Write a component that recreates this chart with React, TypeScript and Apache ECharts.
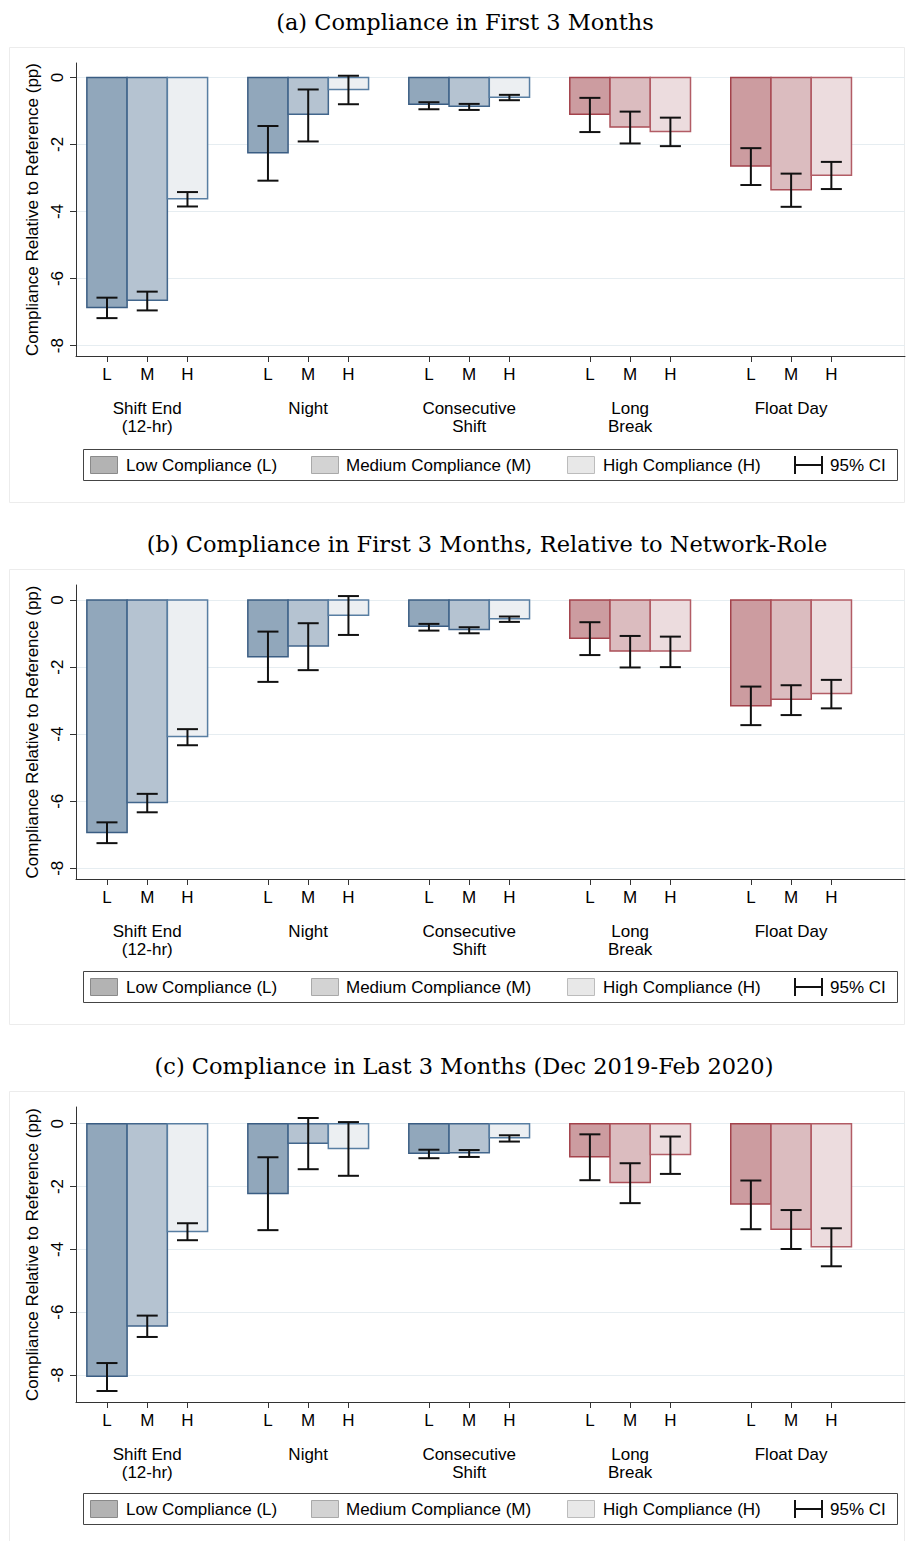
import React, { useEffect, useRef } from 'react';
import * as echarts from 'echarts';

// ---------- data ----------
const groupNames = ['Shift End\n(12-hr)', 'Night', 'Consecutive\nShift', 'Long\nBreak', 'Float Day'];
const levelNames = ['L', 'M', 'H'];
const legendNames = ['Low Compliance (L)', 'Medium Compliance (M)', 'High Compliance (H)', '95% CI'];
const yTickValues = [0, -2, -4, -6, -8];
const panelTitles = [
  '(a) Compliance in First 3 Months',
  '(b) Compliance in First 3 Months, Relative to Network-Role',
  '(c) Compliance in Last 3 Months (Dec 2019-Feb 2020)',
];
const yAxisName = 'Compliance Relative to Reference (pp)';

// order: group-major, L M H within each group
// Panel (a)
const estA = [-6.86, -6.65, -3.62, -2.25, -1.10, -0.36, -0.80, -0.86, -0.59, -1.10, -1.48, -1.61, -2.64, -3.35, -2.92];
const ciHiA = [-6.57, -6.39, -3.42, -1.45, -0.36, 0.05, -0.74, -0.79, -0.52, -0.61, -1.02, -1.20, -2.11, -2.87, -2.52];
const ciLoA = [-7.18, -6.95, -3.85, -3.08, -1.91, -0.80, -0.95, -0.97, -0.68, -1.63, -1.97, -2.05, -3.21, -3.86, -3.33];
// Panel (b)
const estB = [-6.93, -6.04, -4.07, -1.69, -1.37, -0.45, -0.78, -0.88, -0.56, -1.14, -1.52, -1.52, -3.15, -2.96, -2.79];
const ciHiB = [-6.63, -5.78, -3.85, -0.94, -0.69, 0.12, -0.71, -0.81, -0.49, -0.66, -1.07, -1.09, -2.58, -2.54, -2.38];
const ciLoB = [-7.25, -6.33, -4.33, -2.44, -2.09, -1.04, -0.91, -0.99, -0.65, -1.64, -2.01, -2.00, -3.73, -3.43, -3.23];
// Panel (c)
const estC = [-8.04, -6.44, -3.43, -2.22, -0.62, -0.79, -0.94, -0.93, -0.45, -1.05, -1.87, -0.98, -2.56, -3.36, -3.92];
const ciHiC = [-7.62, -6.11, -3.17, -1.07, 0.18, 0.05, -0.83, -0.84, -0.37, -0.34, -1.26, -0.41, -1.81, -2.75, -3.33];
const ciLoC = [-8.51, -6.79, -3.71, -3.39, -1.45, -1.66, -1.10, -1.06, -0.57, -1.80, -2.53, -1.60, -3.36, -3.99, -4.54];

const panels = [
  { est: estA, hi: ciHiA, lo: ciLoA },
  { est: estB, hi: ciHiB, lo: ciLoB },
  { est: estC, hi: ciHiC, lo: ciLoC },
];

// ---------- styling / layout ----------
const yExtents = [[-8.31, 0.43], [-8.32, 0.45], [-8.86, 0.53]];
const gridTops = [63, 585, 1107];
const gridHeights = [293, 294, 295];
const panelOffsets = [0, 522, 1044];
const titleCenters = [465, 487, 464];
const xMin = -0.77;
const xMax = 19.83;

const blueFill = ['#91a7bb', '#b5c3d1', '#eceff2'];
const blueStroke = ['#3a5d83', '#42668c', '#587ea2'];
const redFill = ['#cc9ca0', '#dbbcbf', '#ecdcde'];
const redStroke = ['#a3424b', '#aa4e57', '#b25c65'];
const legendFill = ['#b3b3b3', '#d3d3d3', '#e8e8e8'];
const legendStroke = ['#8a8a8a', '#a9a9a9', '#bcbcbc'];

const SANS = 'Liberation Sans, Arial, Helvetica, sans-serif';
const SERIF = 'DejaVu Serif, Liberation Serif, serif';

const slotOf = (i: number) => Math.floor(i / 3) * 4 + (i % 3);
const tickSlots = Array.from({ length: 15 }, (_, i) => slotOf(i));
const groupSlots = [1, 5, 9, 13, 17];

function buildOption() {
  const grid: any[] = [];
  const xAxis: any[] = [];
  const yAxis: any[] = [];
  const series: any[] = [];
  const graphic: any[] = [];

  panels.forEach((p, pi) => {
    grid.push({ left: 76, top: gridTops[pi], width: 829, height: gridHeights[pi], containLabel: false });
    xAxis.push({
      type: 'value', gridIndex: pi, min: xMin, max: xMax, position: 'bottom',
      axisLine: { show: true, onZero: false, lineStyle: { color: '#333', width: 1 } },
      axisTick: { show: true, customValues: tickSlots, length: 6, lineStyle: { color: '#333' } },
      axisLabel: {
        customValues: tickSlots, margin: 10, fontSize: 17, color: '#000', fontFamily: SANS,
        formatter: (v: number) => levelNames[Math.round(v) % 4] || '',
      },
      splitLine: { show: false },
    });
    xAxis.push({
      type: 'value', gridIndex: pi, min: xMin, max: xMax, position: 'bottom',
      axisLine: { show: false, onZero: false },
      axisTick: { show: false },
      axisLabel: {
        customValues: groupSlots, margin: 43, fontSize: 17, lineHeight: 18, color: '#000', fontFamily: SANS,
        formatter: (v: number) => groupNames[Math.round((v - 1) / 4)] || '',
      },
      splitLine: { show: false },
    });
    yAxis.push({
      type: 'value', gridIndex: pi, min: yExtents[pi][0], max: yExtents[pi][1],
      name: yAxisName, nameLocation: 'middle', nameGap: 31,
      nameTextStyle: { fontSize: 17, color: '#000', fontFamily: SANS },
      axisLine: { show: true, onZero: false, lineStyle: { color: '#333', width: 1 } },
      axisTick: { show: true, customValues: yTickValues, length: 6, lineStyle: { color: '#333' } },
      axisLabel: { customValues: yTickValues, rotate: 90, margin: 10, fontSize: 17, color: '#000', fontFamily: SANS },
      splitLine: { show: true, lineStyle: { color: '#e6edf1', width: 1 } },
    });

    const data = p.est.map((v, i) => [slotOf(i), v, Math.floor(i / 3), i % 3, p.lo[i], p.hi[i]]);
    series.push({
      type: 'custom', xAxisIndex: pi * 2, yAxisIndex: pi, z: 2,
      encode: { x: 0, y: 1 },
      data,
      renderItem: (_params: any, api: any) => {
        const s = api.value(0);
        const v = api.value(1);
        const g = api.value(2);
        const l = api.value(3);
        const a = api.coord([s - 0.5, 0]);
        const b = api.coord([s + 0.5, v]);
        const red = g >= 3;
        return {
          type: 'rect',
          shape: { x: a[0], y: Math.min(a[1], b[1]), width: b[0] - a[0], height: Math.abs(b[1] - a[1]) },
          style: { fill: red ? redFill[l] : blueFill[l], stroke: red ? redStroke[l] : blueStroke[l], lineWidth: 1.5 },
        };
      },
    });
    series.push({
      type: 'custom', xAxisIndex: pi * 2, yAxisIndex: pi, z: 3,
      encode: { x: 0, y: 1 },
      data,
      renderItem: (_params: any, api: any) => {
        const s = api.value(0);
        const lo = api.value(4);
        const hi = api.value(5);
        const x = api.coord([s, 0])[0];
        const yh = api.coord([s, hi])[1];
        const yl = api.coord([s, lo])[1];
        const st = { stroke: '#111', lineWidth: 2 };
        const hw = 10.5;
        return {
          type: 'group',
          children: [
            { type: 'line', shape: { x1: x, y1: yh, x2: x, y2: yl }, style: st },
            { type: 'line', shape: { x1: x - hw, y1: yh, x2: x + hw, y2: yh }, style: st },
            { type: 'line', shape: { x1: x - hw, y1: yl, x2: x + hw, y2: yl }, style: st },
          ],
        };
      },
    });

    const dy = panelOffsets[pi];
    // panel frame
    graphic.push({
      type: 'rect', z: -10, silent: true,
      shape: { x: 9.5, y: 47.5 + dy, width: 895, height: 455 },
      style: { fill: 'none', stroke: '#ececec', lineWidth: 1 },
    });
    // title
    graphic.push({
      type: 'text', x: titleCenters[pi], y: 22 + dy,
      style: { text: panelTitles[pi], align: 'center', verticalAlign: 'middle', fontSize: 22.5, fontFamily: SERIF, fill: '#000' },
    });
    // legend box
    graphic.push({
      type: 'rect',
      shape: { x: 83.5, y: 449.5 + dy, width: 814, height: 31 },
      style: { fill: '#fff', stroke: '#444', lineWidth: 1 },
    });
    const swX = [90.5, 311.5, 567.5];
    const txX = [126, 346, 603, 830];
    swX.forEach((sx, k) => {
      graphic.push({
        type: 'rect',
        shape: { x: sx, y: 456.5 + dy, width: 27, height: 17 },
        style: { fill: legendFill[k], stroke: legendStroke[k], lineWidth: 1 },
      });
    });
    legendNames.forEach((t, k) => {
      graphic.push({
        type: 'text', x: txX[k], y: 465 + dy,
        style: { text: t, align: 'left', verticalAlign: 'middle', fontSize: 17, fontFamily: SANS, fill: '#000' },
      });
    });
    const ciStyle = { stroke: '#111', lineWidth: 2 };
    graphic.push({ type: 'line', shape: { x1: 795, y1: 456 + dy, x2: 795, y2: 474 + dy }, style: ciStyle });
    graphic.push({ type: 'line', shape: { x1: 822, y1: 456 + dy, x2: 822, y2: 474 + dy }, style: ciStyle });
    graphic.push({ type: 'line', shape: { x1: 795, y1: 465 + dy, x2: 822, y2: 465 + dy }, style: ciStyle });
  });

  return {
    animation: false,
    backgroundColor: '#ffffff',
    textStyle: { fontFamily: SANS },
    grid, xAxis, yAxis, series, graphic,
  };
}

export default function App() {
  const ref = useRef<HTMLDivElement>(null);
  useEffect(() => {
    if (!ref.current) return;
    const chart = echarts.init(ref.current, undefined, { renderer: 'svg' });
    chart.setOption(buildOption() as any);
    return () => chart.dispose();
  }, []);
  return <div ref={ref} style={{ position: 'absolute', left: 0, top: 0, width: 906, height: 1541 }} />;
}
